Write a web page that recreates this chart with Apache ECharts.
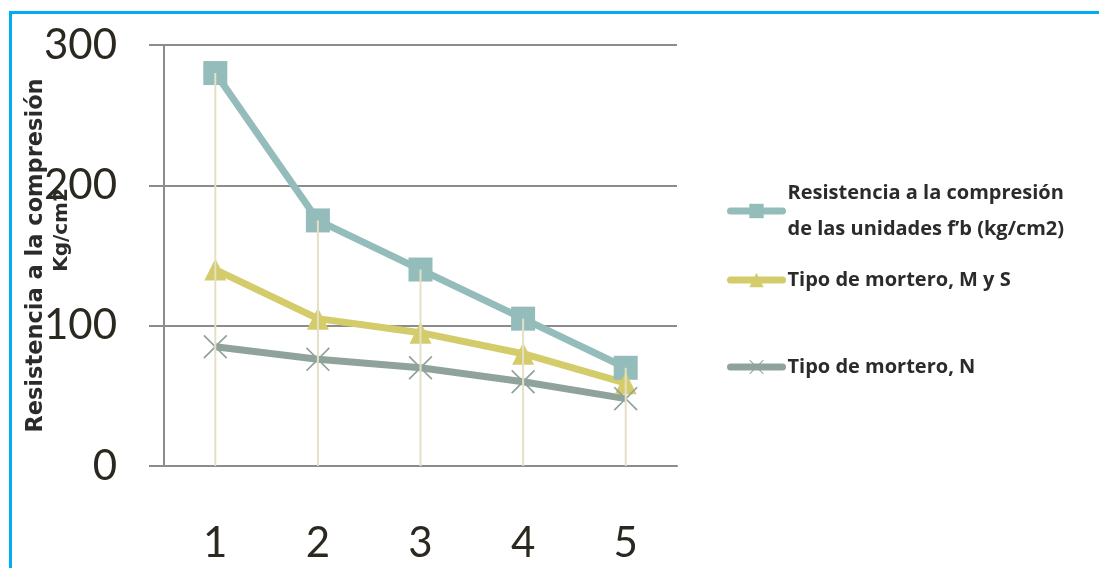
<!DOCTYPE html>
<html>
<head>
<meta charset="utf-8">
<script src="https://cdn.jsdelivr.net/npm/echarts@6/dist/echarts.min.js"></script>
<style>html,body{margin:0;padding:0;background:#fff}#c{width:1099px;height:568px}</style>
</head>
<body>
<div id="c"></div>
<script>
const categories = ['1', '2', '3', '4', '5'];
const seriesNames = ['Resistencia a la compresión\nde las unidades f\u2019b (kg/cm2)', 'Tipo de mortero, M y S', 'Tipo de mortero, N'];
const unidades = [280, 175, 140, 105, 70];
const morteroMS = [140, 105, 95, 80, 59];
const morteroN = [85, 76, 70, 60, 48];
const yTicks = [0, 100, 200, 300];

const xPath = 'path://M0,1L1,0L10,9L19,0L20,1L11,10L20,19L19,20L10,11L1,20L0,19L9,10Z';
const font = 'Lato, "Open Sans", sans-serif';
const legendFont = '"Open Sans", Lato, sans-serif';
const nameFont = '"DejaVu Sans", Verdana, sans-serif';

const chart = echarts.init(document.getElementById('c'));
const legendBase = {
  orient: 'vertical', left: 722, itemWidth: 52, itemHeight: 18, itemGap: 0,
  textStyle: {fontFamily: legendFont, fontWeight: 'bold', fontSize: 20, color: '#2b2b2b', lineHeight: 36},
  lineStyle: {width: 7, cap: 'round'},
  selectedMode: false
};
chart.setOption({
  animation: false,
  backgroundColor: '#fff',
  grid: {left: 164, right: 422, top: 45, bottom: 102},
  legend: [
    Object.assign({}, legendBase, {top: 170, data: [seriesNames[0]]}),
    Object.assign({}, legendBase, {top: 257, data: [seriesNames[1]]}),
    Object.assign({}, legendBase, {top: 344, data: [seriesNames[2]]})
  ],
  xAxis: {
    type: 'category', data: categories, boundaryGap: true,
    axisLine: {lineStyle: {color: '#8c8c8c', width: 2}},
    axisTick: {show: false},
    axisLabel: {fontFamily: font, fontSize: 42, color: '#2b2820', margin: 56}
  },
  yAxis: {
    type: 'value', min: 0, max: 300, interval: 100,
    name: 'Resistencia a la compresión', nameLocation: 'middle', nameGap: 116,
    nameMoveOverlap: false,
    nameTextStyle: {fontFamily: nameFont, fontWeight: 'bold', fontSize: 22.5, color: '#2b2b2b'},
    axisLine: {show: true, lineStyle: {color: '#8c8c8c', width: 2}},
    axisTick: {show: true, length: 15, lineStyle: {color: '#8c8c8c', width: 2}},
    splitLine: {lineStyle: {color: '#8c8c8c', width: 2}},
    axisLabel: {fontFamily: font, fontSize: 42, color: '#2b2820', margin: 47,
      formatter: v => yTicks.includes(v) ? String(v) : ''}
  },
  graphic: [
    {type: 'rect', left: 8, top: 10, shape: {width: 1200, height: 700},
     style: {fill: 'none', stroke: '#00aeef', lineWidth: 3}, silent: true, z: 100},
    {type: 'text', x: 62, y: 230, rotation: Math.PI / 2,
     style: {text: 'Kg/cm2', fontFamily: nameFont, fontWeight: 'bold', fontSize: 20, fill: '#2b2b2b',
       textAlign: 'center', textVerticalAlign: 'middle'}, z: 50}
  ],
  series: [
    {name: seriesNames[0], type: 'line', data: unidades, symbol: 'rect', symbolSize: 24,
     color: '#93bcba', lineStyle: {width: 7, color: '#93bcba'}, itemStyle: {color: '#93bcba'}, z: 3},
    {name: seriesNames[1], type: 'line', data: morteroMS, symbol: 'triangle', symbolSize: [22, 22],
     color: '#d4cc6a', lineStyle: {width: 7, color: '#d4cc6a'}, itemStyle: {color: '#d4cc6a'}, z: 3},
    {name: seriesNames[2], type: 'line', data: morteroN, symbol: xPath, symbolSize: 24,
     color: '#8fa39b', lineStyle: {width: 7, color: '#8fa39b'}, itemStyle: {color: '#8fa39b'}, z: 3},
    {name: 'drop', type: 'bar', data: unidades, barWidth: 2, barGap: '-100%',
     itemStyle: {color: '#e4e0c6'}, z: 5, silent: true}
  ]
});
</script>
</body>
</html>
